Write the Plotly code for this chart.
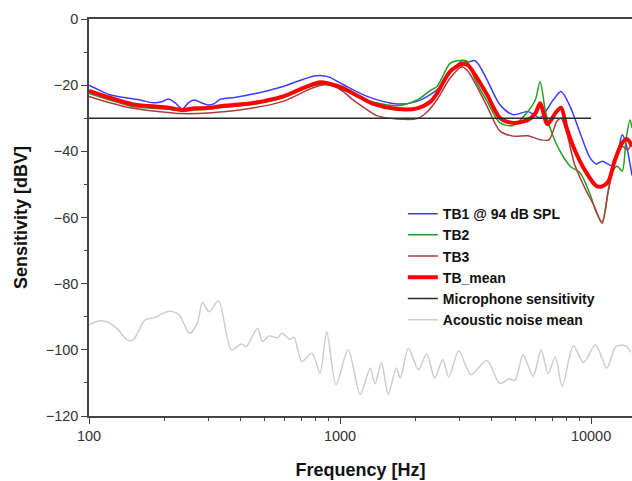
import plotly.graph_objects as go

# ---- data ----
tb1_f = [100, 110, 121, 140, 160, 180, 195, 207, 220, 235, 250, 264, 280, 298, 315, 333, 380, 450, 520, 593, 690, 780, 832, 900,
         1028, 1282, 1688, 2027, 2434, 2741, 3061, 3236, 3451, 3614, 3853, 4339, 4888, 5611, 6266, 7061, 7589, 8245, 9035,
         9909, 10500, 11060, 12130, 12800, 13300, 13700, 14560]
tb1_db = [-20.0, -21.5, -22.9, -23.8, -24.5, -25.3, -25.0, -24.2, -25.3, -27.2, -25.2, -24.5, -25.3, -26.0, -25.6, -24.3, -23.7,
          -22.7, -21.6, -20.4, -18.6, -17.3, -17.1, -17.5, -19.8, -23.4, -25.7, -24.9, -21.4, -16.3, -12.6, -13.0, -12.6, -14.5,
          -18.4, -26.0, -28.9, -28.0, -29.8, -24.5, -21.9, -26.4, -34.4, -42.0, -43.8, -43.0, -44.3, -40.0, -35.0, -37.0, -47.3]

tb2_f = [100, 121, 150, 180, 207, 235, 264, 298, 333, 450, 593, 693, 780, 870, 950, 1028, 1282, 1688, 2027, 2300, 2434, 2741,
         2900, 3200, 3451, 3853, 4339, 4888, 5611, 6000, 6266, 6600, 7061, 7589, 8245, 9035, 9909, 10500, 11060, 11700, 12130,
         12700, 13300, 13800, 14300, 14560]
tb2_db = [-22.5, -24.5, -26.5, -27.0, -27.3, -27.8, -27.5, -27.3, -26.8, -25.8, -23.8, -21.5, -20.2, -19.7, -20.3, -21.4, -24.6,
          -26.2, -24.5, -21.5, -20.4, -13.4, -12.7, -12.7, -18.4, -24.9, -31.4, -32.2, -27.9, -24.4, -19.0, -28.4, -35.5, -40.5,
          -44.5, -46.5, -53.0, -58.5, -61.3, -52.0, -46.5, -44.5, -46.0, -36.0, -30.5, -33.0]

tb3_f = [100, 121, 150, 180, 235, 298, 450, 593, 780, 870, 950, 1028, 1150, 1282, 1400, 1688, 2027, 2200, 2434, 2741, 3061,
         3250, 3451, 3853, 4339, 4888, 5611, 6266, 6800, 7300, 7589, 8000, 8600, 9500, 10300, 11060, 11700, 12130, 12700,
         13300, 14000, 14560]
tb3_db = [-23.4, -25.3, -27.0, -27.8, -28.6, -28.4, -26.9, -24.9, -20.8, -19.9, -20.4, -21.9, -25.0, -27.4, -29.2, -30.2, -30.1,
          -28.4, -24.4, -17.9, -14.4, -16.0, -19.4, -26.4, -33.9, -35.4, -35.3, -36.5, -36.5, -31.0, -30.0, -34.4, -44.0, -51.5,
          -56.6, -61.8, -52.0, -46.5, -41.0, -38.5, -39.5, -37.0]

mean_f = [100, 121, 150, 180, 207, 235, 264, 298, 333, 450, 593, 693, 780, 832, 900, 1028, 1200, 1350, 1688, 2027, 2300, 2434,
          2741, 3061, 3236, 3451, 3853, 4339, 4888, 5611, 6000, 6266, 6700, 7200, 7589, 8000, 8600, 9500, 10500, 11060, 11700,
          12400, 13300, 13900, 14560]
mean_db = [-21.7, -23.8, -25.8, -26.4, -26.8, -27.5, -27.0, -26.9, -26.4, -25.4, -23.4, -21.3, -19.7, -19.1, -19.5, -20.9, -23.6,
           -25.6, -27.2, -27.0, -24.9, -22.5, -15.9, -13.6, -14.0, -16.9, -22.9, -29.9, -31.4, -30.5, -28.5, -25.5, -31.8, -28.5,
           -26.8, -33.0, -39.5, -46.0, -50.5, -50.6, -49.2, -43.0, -37.5, -36.3, -38.5]

mic_f = [100, 10000]
mic_db = [-30, -30]

noise_f = [100, 109, 118, 129, 142, 150, 167, 183, 208, 229, 251, 270, 283, 301, 328, 369, 405, 423, 469, 491, 520, 565, 586,
           631, 655, 705, 773, 832, 885, 964, 1077, 1203, 1319, 1378, 1462, 1556, 1675, 1738, 1872, 2053, 2212, 2382, 2564,
           2710, 2972, 3319, 3846, 4327, 4712, 4980, 5360, 5876, 6325, 6740, 7200, 7670, 8500, 9330, 10420, 11560, 12540,
           13740, 14430]
noise_db = [-92.5, -91.3, -91.5, -93.5, -97.0, -97.0, -91.0, -90.2, -88.3, -89.5, -95.0, -92.0, -85.7, -88.5, -85.2, -100.0,
            -98.2, -99.0, -93.5, -97.5, -95.8, -96.3, -95.0, -96.8, -96.2, -103.5, -101.0, -107.0, -94.5, -110.5, -100.0,
            -113.5, -105.5, -110.3, -103.8, -113.5, -105.5, -108.5, -99.5, -106.0, -101.2, -108.5, -103.0, -108.2, -100.3,
            -107.5, -103.2, -110.2, -108.8, -109.2, -101.5, -108.0, -100.0, -107.2, -102.2, -111.0, -98.8, -103.8, -98.5,
            -105.5, -99.0, -98.8, -100.8]

y_ticks = [0, -20, -40, -60, -80, -100, -120]
y_minor = [-10, -30, -50, -70, -90, -110]
x_ticks = [100, 1000, 10000]
x_minor = [200, 300, 400, 500, 600, 700, 800, 900, 2000, 3000, 4000, 5000, 6000, 7000, 8000, 9000]

series = [
    ("TB1 @ 94 dB SPL", tb1_f, tb1_db, "#3c3cff", 1.5),
    ("TB2", tb2_f, tb2_db, "#23a023", 1.5),
    ("TB3", tb3_f, tb3_db, "#b03a3a", 1.5),
    ("TB_mean", mean_f, mean_db, "#ff0000", 4),
    ("Microphone sensitivity", mic_f, mic_db, "#2a2a2a", 1.5),
    ("Acoustic noise mean", noise_f, noise_db, "#cdcdcd", 1.5),
]

fig = go.Figure()
for name, f, db, col, w in series:
    fig.add_trace(go.Scatter(x=f, y=db, mode="lines", name=name,
                             line=dict(color=col, width=w, shape="spline", smoothing=0.8)))

font_family = "Liberation Sans, Arial, sans-serif"
fig.update_layout(
    template="none",
    width=632, height=481,
    margin=dict(l=89, r=0, t=19, b=65, pad=0),
    paper_bgcolor="white", plot_bgcolor="white",
    font=dict(family=font_family, color="#222222", size=14),
    showlegend=True,
    legend=dict(x=0.578, y=0.549, xanchor="left", yanchor="top",
                bgcolor="rgba(0,0,0,0)", borderwidth=0,
                font=dict(family=font_family, size=14, color="#111111", weight="bold"),
                tracegroupgap=0, itemwidth=30),
)
fig.update_xaxes(
    type="log", range=[2, 4.163], automargin=False,
    tickvals=x_ticks, ticktext=[str(v) for v in x_ticks],
    ticks="outside", ticklen=6, tickwidth=1.2, tickcolor="#444444",
    minor=dict(tickvals=x_minor, ticks="outside", ticklen=3, tickcolor="#444444", showgrid=False),
    showline=True, linecolor="#444444", linewidth=1.5, mirror=True,
    showgrid=False, zeroline=False,
    title=dict(text="<b>Frequency [Hz]</b>", font=dict(size=18, color="#111111"), standoff=20),
    tickfont=dict(size=14.5, color="#333333"),
)
fig.update_yaxes(
    range=[-120, 0], automargin=False,
    tickvals=y_ticks,
    ticks="outside", ticklen=6, tickwidth=1.2, tickcolor="#444444",
    minor=dict(tickvals=y_minor, ticks="outside", ticklen=3, tickcolor="#444444", showgrid=False),
    showline=True, linecolor="#444444", linewidth=1.5, mirror=False,
    showgrid=False, zeroline=False,
    title=dict(text="<b>Sensitivity [dBV]</b>", font=dict(size=18, color="#111111"), standoff=13),
    tickfont=dict(size=14.5, color="#333333"),
)

fig.write_html("out.html", config={"displayModeBar": False},
               post_script="document.body.style.margin='0';document.body.style.overflow='hidden';")
